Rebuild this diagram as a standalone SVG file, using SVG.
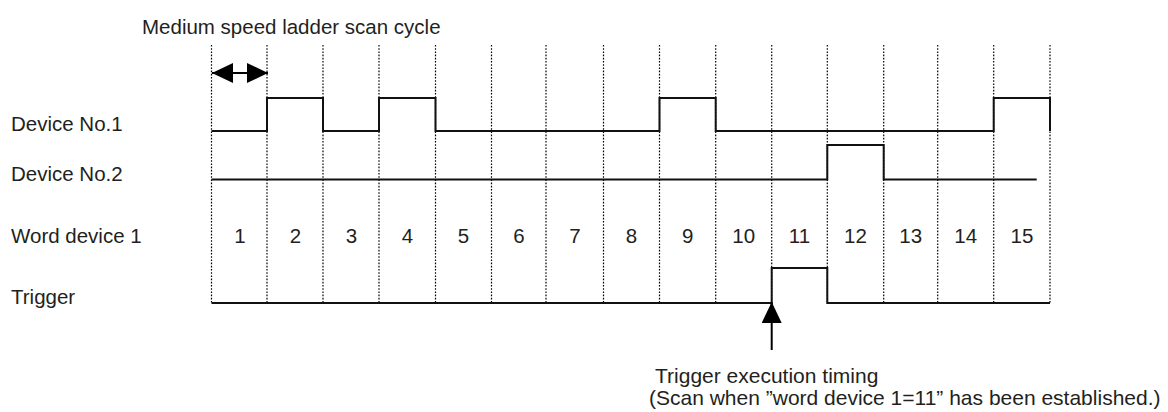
<svg xmlns="http://www.w3.org/2000/svg" width="1168" height="412" viewBox="0 0 1168 412">
<style>
.t{font-family:"Liberation Sans",Arial,sans-serif;font-size:20.5px;fill:#231f20}
.b{font-family:"Liberation Sans",Arial,sans-serif;font-size:21px;fill:#231f20}
.n{font-family:"Liberation Sans",Arial,sans-serif;font-size:20.5px;fill:#231f20;text-anchor:middle}
.dot{stroke:#000;stroke-width:1.2;stroke-dasharray:1.6 1.6;fill:none}
.w{stroke:#111;stroke-width:2;fill:none;stroke-linejoin:miter}
</style>
<defs>
<marker id="ah" markerWidth="21" markerHeight="20" refX="21" refY="10" orient="auto" markerUnits="userSpaceOnUse">
<path d="M0,0 L21,10 L0,20 Z" fill="#000"/>
</marker>
</defs>
<g id="grid">
<line class="dot" x1="211.5" y1="45" x2="211.5" y2="304"/>
<line class="dot" x1="267" y1="45" x2="267" y2="304"/>
<line class="dot" x1="323" y1="45" x2="323" y2="304"/>
<line class="dot" x1="379" y1="45" x2="379" y2="304"/>
<line class="dot" x1="435.5" y1="45" x2="435.5" y2="304"/>
<line class="dot" x1="491.5" y1="45" x2="491.5" y2="304"/>
<line class="dot" x1="546" y1="45" x2="546" y2="304"/>
<line class="dot" x1="603.5" y1="45" x2="603.5" y2="304"/>
<line class="dot" x1="659.5" y1="45" x2="659.5" y2="304"/>
<line class="dot" x1="715.7" y1="45" x2="715.7" y2="304"/>
<line class="dot" x1="771.7" y1="45" x2="771.7" y2="304"/>
<line class="dot" x1="827.3" y1="45" x2="827.3" y2="304"/>
<line class="dot" x1="883.7" y1="45" x2="883.7" y2="304"/>
<line class="dot" x1="937.7" y1="45" x2="937.7" y2="304"/>
<line class="dot" x1="993.7" y1="45" x2="993.7" y2="304"/>
<line class="dot" x1="1050" y1="45" x2="1050" y2="304"/>
</g>
<g id="title"><text class="t" x="142" y="34">Medium speed ladder scan cycle</text></g>
<g id="labels">
<text class="t" x="11" y="131">Device No.1</text>
<text class="t" x="11" y="181">Device No.2</text>
<text class="t" x="11" y="243">Word device 1</text>
<text class="t" x="11" y="304">Trigger</text>
</g>
<g id="device1"><path class="w" d="M211.5,131 H267 V98 H323 V131 H379 V98 H435.5 V131 H659.5 V98 H715.7 V131 H993.7 V98 H1050 V131"/></g>
<g id="device2"><path class="w" d="M211.5,179.5 H827.3 V145 H883.7 V179.5 H1036.7"/></g>
<g id="trigger"><path class="w" d="M211.5,303 H771.7 V268 H827.3 V303 H1050"/></g>
<g id="numbers">
<text class="n" x="240" y="243">1</text>
<text class="n" x="295.5" y="243">2</text>
<text class="n" x="351.5" y="243">3</text>
<text class="n" x="407.5" y="243">4</text>
<text class="n" x="463.5" y="243">5</text>
<text class="n" x="519" y="243">6</text>
<text class="n" x="575" y="243">7</text>
<text class="n" x="631.5" y="243">8</text>
<text class="n" x="687.6" y="243">9</text>
<text class="n" x="743.7" y="243">10</text>
<text class="n" x="799.5" y="243">11</text>
<text class="n" x="855.5" y="243">12</text>
<text class="n" x="910.7" y="243">13</text>
<text class="n" x="965.7" y="243">14</text>
<text class="n" x="1021.9" y="243">15</text>
</g>
<g id="connectors">
<line x1="239" y1="73" x2="212" y2="73" stroke="#000" stroke-width="2" marker-end="url(#ah)"/>
<line x1="239" y1="73" x2="268" y2="73" stroke="#000" stroke-width="2" marker-end="url(#ah)"/>
<line x1="771.7" y1="350" x2="771.7" y2="302" stroke="#000" stroke-width="2" marker-end="url(#ah)"/>
</g>
<g id="note">
<text class="b" x="655" y="383">Trigger execution timing</text>
<text class="b" x="649" y="405">(Scan when ”word device 1=11” has been established.)</text>
</g>
</svg>
